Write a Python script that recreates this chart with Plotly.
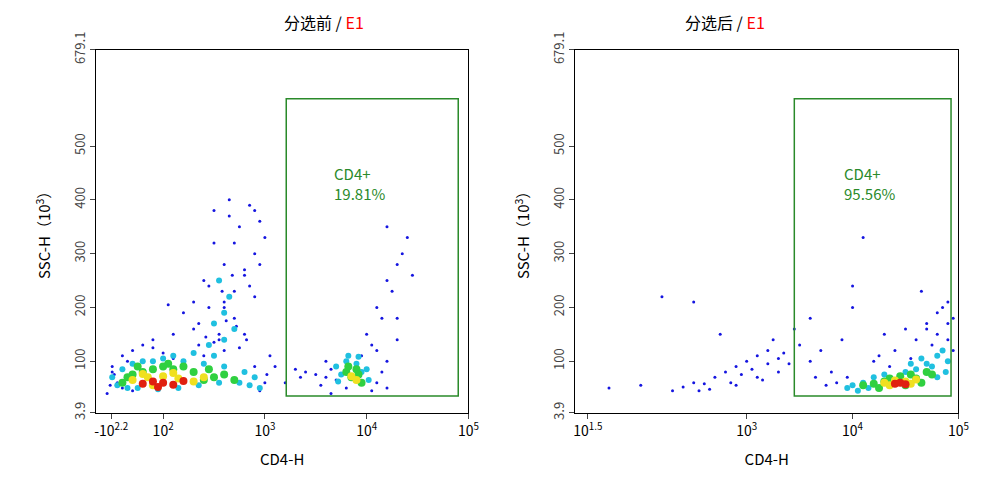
import plotly.graph_objects as go

# ---- Data (x in decades of CD4-H, y in SSC-H x10^3) ----
L_blue_x = [1.45,1.5,1.6,1.7,1.55,1.8,1.9,2.1,2.3,2.5,2.6,2.7,2.8,2.9,3.0,2.4,2.2,2.6,2.75,2.85,2.5,2.65,2.9,2.95,2.3,2.45,2.7,2.55,2.8,2.6,2.4,2.2,2.0,1.9,2.1,2.35,2.5,2.75,3.05,3.1,3.3,3.4,3.5,3.6,3.7,4.0,4.1,4.2,4.3,4.35,4.4,4.25,4.15,4.05,3.95,4.45,4.3,4.2,1.7,1.6,2.05,2.6,2.8,2.9,2.7,2.5,4.1,4.3,4.2,3.2,3.35,3.55,3.65,3.8,4.05,1.5,1.65,2.95,2.85,2.65,1.48,1.52,3.0,2.95,2.9,3.02,3.6,3.65,4.1,4.2,4.15,2.35,2.55,2.45,2.62,2.72,2.82,2.42,2.58,2.68]
L_blue_y = [40,90,110,120,60,130,140,150,160,170,200,230,260,300,330,250,190,280,350,390,320,400,380,360,210,240,180,140,150,120,110,100,115,125,105,130,135,125,110,90,85,80,75,70,65,150,200,250,280,300,330,230,180,130,110,260,180,350,45,50,205,210,270,220,320,380,120,140,100,60,70,55,40,50,45,80,100,280,240,370,55,75,60,45,90,75,100,85,60,50,80,170,150,200,175,165,140,145,230,260]
L_cyan_x = [1.5,1.6,1.7,1.8,2.0,2.2,2.4,2.6,2.8,2.9,2.5,2.3,2.1,1.9,3.7,3.8,3.9,4.0,3.75,3.95,2.7,2.6,2.45,2.65,1.55,1.65,2.75,2.85,2.95,2.55,2.35,2.15,1.95,1.75,3.72,3.82,3.92,4.02,2.55,2.6,2.5]
L_cyan_y = [70,85,95,100,105,100,95,90,80,70,110,115,110,100,90,100,95,85,75,80,160,190,130,220,55,50,60,55,50,60,55,50,48,50,62,110,108,65,250,140,170]
L_green_x = [1.6,1.7,1.8,1.9,2.1,2.3,2.5,2.2,2.0,2.4,3.8,3.85,3.9,3.95,2.6,2.7,1.65,2.45,2.05,1.75,3.82,3.92]
L_green_y = [60,75,80,85,85,80,70,90,90,65,80,70,85,60,75,65,70,85,95,90,90,75]
L_yellow_x = [1.7,1.85,2.0,2.15,2.3,1.9,3.85,3.9,2.4,1.8,2.1]
L_yellow_y = [65,70,72,68,62,55,72,65,70,76,78]
L_red_x = [1.8,1.9,2.0,2.1,1.95,2.2]
L_red_y = [58,62,60,56,52,63]

R_blue_x = [1.7,2.0,2.3,2.4,2.5,2.6,2.7,2.8,2.9,3.0,3.1,3.2,3.3,3.4,3.5,2.75,2.85,2.95,3.05,3.15,3.25,3.35,2.2,2.5,3.6,3.7,3.8,3.9,4.0,4.1,4.3,4.5,4.7,4.8,4.85,4.9,4.95,4.75,4.6,4.4,4.2,3.95,4.25,4.0,3.45,3.6,4.65,4.9,2.65,2.9,3.1,3.2,3.3,2.55,3.75,3.85,3.65,4.05,4.35,4.55,4.8,4.95,4.9,4.7]
R_blue_y = [50,55,45,52,60,58,70,80,90,100,110,120,105,95,130,150,60,75,85,65,140,115,220,210,100,120,80,140,240,330,150,160,170,190,200,210,180,130,140,120,100,70,110,200,160,180,230,140,48,55,70,95,80,45,55,60,70,45,90,105,150,120,170,160]
R_cyan_x = [4.1,4.2,4.3,4.5,4.6,4.7,4.8,4.85,4.9,4.75,4.0,4.15,3.95,4.05,4.8,4.88,4.65,4.55]
R_cyan_y = [60,70,75,80,85,95,110,120,100,90,55,50,50,45,70,80,105,95]
R_green_x = [4.2,4.3,4.35,4.45,4.55,4.6,4.7,4.5,4.25,4.1,4.65,4.75]
R_green_y = [58,62,68,72,75,68,80,55,50,55,60,75]
R_yellow_x = [4.3,4.4,4.5,4.55,4.35,4.6]
R_yellow_y = [60,64,62,58,55,66]
R_red_x = [4.4,4.45,4.5]
R_red_y = [58,60,57]

left_ticks = [1.49, 2, 3, 4, 5]
left_labels = ["-10<sup>2.2</sup>", "10<sup>2</sup>", "10<sup>3</sup>", "10<sup>4</sup>", "10<sup>5</sup>"]
right_ticks = [1.5, 3, 4, 5]
right_labels = ["10<sup>1.5</sup>", "10<sup>3</sup>", "10<sup>4</sup>", "10<sup>5</sup>"]
y_ticks = [3.9, 100, 200, 300, 400, 500, 679.1]
gates = [(3.21, 4.9, 35, 588), (3.45, 4.93, 35, 588)]
gate_text = ["CD4+<br>19.81%", "CD4+<br>95.56%"]

fig = go.Figure()
levels = [("#1515e0", 3), ("#20c0e0", 6), ("#30d040", 8), ("#f0e020", 8), ("#e02010", 8)]
L = [(L_blue_x, L_blue_y), (L_cyan_x, L_cyan_y), (L_green_x, L_green_y), (L_yellow_x, L_yellow_y), (L_red_x, L_red_y)]
R = [(R_blue_x, R_blue_y), (R_cyan_x, R_cyan_y), (R_green_x, R_green_y), (R_yellow_x, R_yellow_y), (R_red_x, R_red_y)]
for i, data in enumerate((L, R)):
    xa = "x" if i == 0 else "x2"
    ya = "y" if i == 0 else "y2"
    for (c, s), (xs, ys) in zip(levels, data):
        fig.add_trace(go.Scatter(x=xs, y=ys, xaxis=xa, yaxis=ya, mode="markers",
                                 marker=dict(color=c, size=s, line=dict(width=0)), showlegend=False))
    x0, x1, y0, y1 = gates[i]
    fig.add_shape(type="rect", x0=x0, x1=x1, y0=y0, y1=y1, xref=xa, yref=ya, line=dict(color="#2a8a2a", width=1.5))
    fig.add_annotation(x=x0 + 0.45, y=430, xref=xa, yref=ya, text=gate_text[i], showarrow=False, align="left",
                       xanchor="left", font=dict(color="#2a8a2a", size=15))

ax = dict(showline=True, mirror=True, linecolor="black", ticks="outside", showgrid=False, zeroline=False,
          title=dict(text="CD4-H", font=dict(size=15)), tickfont=dict(size=14), automargin=False)
ay = dict(range=[3.9, 679.1], tickvals=y_ticks, ticktext=[str(v) for v in y_ticks], tickangle=-90,
          showline=True, mirror=True, linecolor="black", ticks="outside", showgrid=False, zeroline=False,
          title=dict(text="SSC-H（10<sup>3</sup>）", font=dict(size=15)), tickfont=dict(size=13, color="#444"),
          automargin=False)
fig.update_layout(
    xaxis=dict(ax, domain=[0.089, 0.466], range=[1.34, 5.0], tickvals=left_ticks, ticktext=left_labels, anchor="y"),
    xaxis2=dict(ax, domain=[0.574, 0.962], range=[1.38, 5.0], tickvals=right_ticks, ticktext=right_labels, anchor="y2"),
    yaxis=dict(ay, domain=[0.167, 0.914], anchor="x"),
    yaxis2=dict(ay, domain=[0.167, 0.914], anchor="x2"),
    width=988, height=486, margin=dict(l=0, r=0, t=0, b=0, autoexpand=False), plot_bgcolor="white", paper_bgcolor="white",
    font=dict(family="Noto Sans CJK SC, Arial", color="black"))
fig.add_annotation(x=0.2775, y=0.942, xref="paper", yref="paper", yanchor="bottom", showarrow=False,
                   text="分选前 / <span style='color:red'>E1</span>", font=dict(size=16))
fig.add_annotation(x=0.768, y=0.942, xref="paper", yref="paper", yanchor="bottom", showarrow=False,
                   text="分选后 / <span style='color:red'>E1</span>", font=dict(size=16))
fig.write_html("out.html")
